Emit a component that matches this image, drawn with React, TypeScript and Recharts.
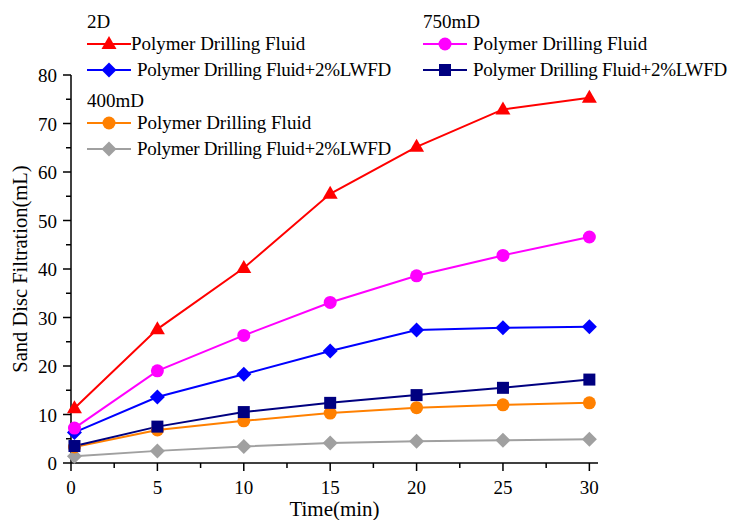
import React from 'react';
import { LineChart, Line, XAxis, YAxis } from 'recharts';

const times = [0.2, 5, 10, 15, 20, 25, 30];
const red2D = [11.3, 27.6, 40.2, 55.5, 65.2, 72.9, 75.3];
const blue2D = [6.3, 13.6, 18.3, 23.1, 27.4, 27.9, 28.1];
const magenta750 = [7.2, 19.0, 26.3, 33.1, 38.6, 42.8, 46.6];
const navy750 = [3.5, 7.5, 10.5, 12.4, 14.0, 15.5, 17.2];
const orange400 = [3.3, 6.8, 8.7, 10.3, 11.4, 12.0, 12.4];
const gray400 = [1.4, 2.5, 3.4, 4.1, 4.5, 4.7, 4.9];

const xTicks = [0, 2.5, 5, 7.5, 10, 12.5, 15, 17.5, 20, 22.5, 25, 27.5, 30];
const yTicks = [0, 5, 10, 15, 20, 25, 30, 35, 40, 45, 50, 55, 60, 65, 70, 75, 80];

const FONT = '"Liberation Serif", "Times New Roman", serif';

type Shape = 'triangle' | 'circle' | 'diamond' | 'square';

const series: { key: string; name: string; group: string; color: string; shape: Shape; values: number[] }[] = [
  { key: 'gray400', name: 'Polymer Drilling Fluid+2%LWFD', group: '400mD', color: '#a0a0a0', shape: 'diamond', values: gray400 },
  { key: 'orange400', name: 'Polymer Drilling Fluid', group: '400mD', color: '#ff8000', shape: 'circle', values: orange400 },
  { key: 'navy750', name: 'Polymer Drilling Fluid+2%LWFD', group: '750mD', color: '#000080', shape: 'square', values: navy750 },
  { key: 'blue2D', name: 'Polymer Drilling Fluid+2%LWFD', group: '2D', color: '#0000ff', shape: 'diamond', values: blue2D },
  { key: 'magenta750', name: 'Polymer Drilling Fluid', group: '750mD', color: '#ff00ff', shape: 'circle', values: magenta750 },
  { key: 'red2D', name: 'Polymer Drilling Fluid', group: '2D', color: '#ff0000', shape: 'triangle', values: red2D },
];

const data = times.map((t, i) => {
  const row: Record<string, number> = { t };
  series.forEach((s) => {
    row[s.key] = s.values[i];
  });
  return row;
});

function marker(shape: Shape, cx: number, cy: number, color: string, k?: string) {
  if (shape === 'triangle') {
    return <path key={k} d={`M${cx},${cy - 8}L${cx - 7.5},${cy + 5}L${cx + 7.5},${cy + 5}Z`} fill={color} />;
  }
  if (shape === 'circle') {
    return <circle key={k} cx={cx} cy={cy} r={6.5} fill={color} />;
  }
  if (shape === 'diamond') {
    return <path key={k} d={`M${cx},${cy - 7.5}L${cx + 7.5},${cy}L${cx},${cy + 7.5}L${cx - 7.5},${cy}Z`} fill={color} />;
  }
  return <rect key={k} x={cx - 6} y={cy - 6} width={12} height={12} fill={color} />;
}

const makeDot = (shape: Shape, color: string) => (props: any) => {
  const { cx, cy, index } = props;
  if (cx == null || cy == null) return <g key={`d${index}`} />;
  return marker(shape, cx, cy, color, `d${index}`);
};

const XTick = (props: any) => {
  const { x, y, payload } = props;
  const v = payload.value as number;
  const major = v % 5 === 0;
  return (
    <g>
      <line x1={x} x2={x} y1={y} y2={y + (major ? 8 : 5)} stroke="#000" strokeWidth={1.5} />
      {major && (
        <text x={x} y={y + 31} textAnchor="middle" fontFamily={FONT} fontSize={19} fill="#000">
          {v}
        </text>
      )}
    </g>
  );
};

const YTick = (props: any) => {
  const { x, y, payload } = props;
  const v = payload.value as number;
  const major = v % 10 === 0;
  return (
    <g>
      <line x1={x} x2={x - (major ? 8 : 5)} y1={y} y2={y} stroke="#000" strokeWidth={1.5} />
      {major && (
        <text x={x - 14} y={y + 7} textAnchor="end" fontFamily={FONT} fontSize={19} fill="#000">
          {v}
        </text>
      )}
    </g>
  );
};

const LegendBlock = () => {
  const groups = [
    { label: '2D', left: 87, top: 10 },
    { label: '400mD', left: 87, top: 89 },
    { label: '750mD', left: 423, top: 10 },
  ];
  return (
    <div style={{ position: 'absolute', left: 0, top: 0, width: 730, height: 170, fontFamily: FONT, fontSize: 19, color: '#000', pointerEvents: 'none' }}>
      {groups.map((g) => {
        const items = series.filter((s) => s.group === g.label).reverse();
        return (
          <div key={g.label} style={{ position: 'absolute', left: g.left, top: g.top }}>
            <div style={{ height: 24, lineHeight: '24px' }}>{g.label}</div>
            {items.map((s, i) => (
              <div key={s.key} style={{ display: 'flex', alignItems: 'center', height: 24, marginTop: i === 0 ? -2 : 2 }}>
                <svg width={44} height={20} style={{ display: 'block' }}>
                  <line x1={0} x2={44} y1={10} y2={10} stroke={s.color} strokeWidth={2} />
                  {marker(s.shape, 22, 10, s.color)}
                </svg>
                <span
                  style={{
                    marginLeft: i === 0 && g.label === '2D' ? 0 : 6,
                    whiteSpace: 'nowrap',
                    letterSpacing: s.name.includes('LWFD') ? -0.3 : 0,
                  }}
                >
                  {s.name}
                </span>
              </div>
            ))}
          </div>
        );
      })}
    </div>
  );
};

export default function App() {
  return (
    <div style={{ position: 'absolute', left: 0, top: 0, width: 730, height: 520, background: '#fff' }}>
      <LineChart width={730} height={520} data={data} margin={{ top: 75, right: 132, bottom: 0, left: 0 }}>
        <XAxis
          dataKey="t"
          type="number"
          domain={[0, 30.5]}
          ticks={xTicks}
          interval={0}
          tickSize={0}
          tickMargin={0}
          tickLine={false}
          tick={<XTick />}
          axisLine={{ stroke: '#000', strokeWidth: 1.5 }}
          height={57}
          label={{ value: 'Time(min)', position: 'insideBottom', offset: 4, fontFamily: FONT, fontSize: 21, fill: '#000' }}
        />
        <YAxis
          type="number"
          domain={[0, 80]}
          ticks={yTicks}
          interval={0}
          tickSize={0}
          tickMargin={0}
          tickLine={false}
          tick={<YTick />}
          axisLine={{ stroke: '#000', strokeWidth: 1.5 }}
          width={71}
          label={{ value: 'Sand Disc Filtration(mL)', angle: -90, position: 'insideLeft', offset: 20, style: { textAnchor: 'middle' }, fontFamily: FONT, fontSize: 20.5, fill: '#000' }}
        />
        {series.map((s) => (
          <Line
            key={s.key}
            dataKey={s.key}
            name={s.name}
            stroke={s.color}
            strokeWidth={2}
            dot={makeDot(s.shape, s.color)}
            activeDot={false}
            isAnimationActive={false}
            legendType="none"
          />
        ))}
      </LineChart>
      <LegendBlock />
    </div>
  );
}
